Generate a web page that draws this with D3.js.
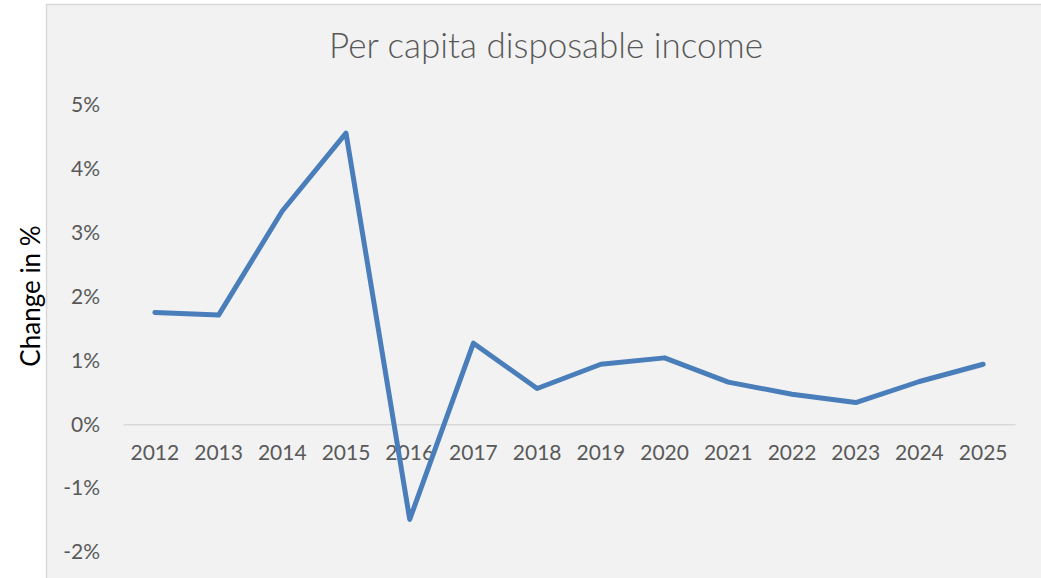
<!DOCTYPE html>
<html>
<head>
<meta charset="utf-8">
<script src="https://cdn.jsdelivr.net/npm/d3@7"></script>
<style>
  html, body { margin: 0; padding: 0; background: #ffffff; }
  svg { display: block; }
</style>
</head>
<body>
<svg id="chart" width="1041" height="578"></svg>
<script>
const years = ["2012","2013","2014","2015","2016","2017","2018","2019","2020","2021","2022","2023","2024","2025"];
const changePct = [1.75, 1.71, 3.34, 4.56, -1.49, 1.27, 0.56, 0.94, 1.04, 0.66, 0.47, 0.34, 0.67, 0.94];
const yTicks = [-2, -1, 0, 1, 2, 3, 4, 5];
const title = "Per capita disposable income";
const yTitle = "Change in %";

const svg = d3.select("#chart");
const W = 1041, H = 578;

// chart area background with border (top & left visible)
svg.append("rect")
  .attr("x", 46.5).attr("y", 4.5)
  .attr("width", W + 20).attr("height", H + 20)
  .attr("fill", "#f2f2f2")
  .attr("stroke", "#d9d9d9").attr("stroke-width", 1.5);

const x = d3.scaleBand().domain(years).range([123, 1015]);
const y = d3.scaleLinear().domain([-2, 5]).range([552, 105]);

// title
svg.append("text")
  .attr("x", 546).attr("y", 49)
  .attr("text-anchor", "middle").attr("dominant-baseline", "middle")
  .attr("font-family", "Lato, sans-serif").attr("font-weight", 300)
  .attr("font-size", 35).attr("fill", "#595959")
  .text(title);

// y axis labels
const yAxis = d3.axisLeft(y).tickValues(yTicks).tickFormat(d => d + "%").tickSize(0).tickPadding(0);
const gy = svg.append("g").attr("transform", "translate(100,0)").call(yAxis);
gy.select(".domain").remove();
gy.selectAll("text")
  .attr("font-family", "Lato, sans-serif").attr("font-size", 21)
  .attr("fill", "#595959");

// x axis line at zero
const xAxis = d3.axisBottom(x).tickSize(0).tickPadding(0);
const gx = svg.append("g").attr("transform", `translate(0,${y(0)})`).call(xAxis);
gx.select(".domain").attr("stroke", "#d9d9d9").attr("stroke-width", 1.5);
gx.selectAll("text")
  .attr("dy", null).attr("y", 30).attr("dominant-baseline", "middle")
  .attr("font-family", "Lato, sans-serif").attr("font-size", 21)
  .attr("fill", "#595959");

// y title
svg.append("text")
  .attr("transform", "translate(33,296) rotate(-90)")
  .attr("text-anchor", "middle").attr("dominant-baseline", "middle")
  .attr("font-family", "Lato, sans-serif").attr("font-size", 26)
  .attr("fill", "#000000")
  .text(yTitle);

// line
const line = d3.line()
  .x((d, i) => x(years[i]) + x.bandwidth() / 2)
  .y(d => y(d));
svg.append("path")
  .datum(changePct)
  .attr("d", line)
  .attr("fill", "none")
  .attr("stroke", "#4a7ebb")
  .attr("stroke-width", 5)
  .attr("stroke-linejoin", "round")
  .attr("stroke-linecap", "round");
</script>
</body>
</html>
